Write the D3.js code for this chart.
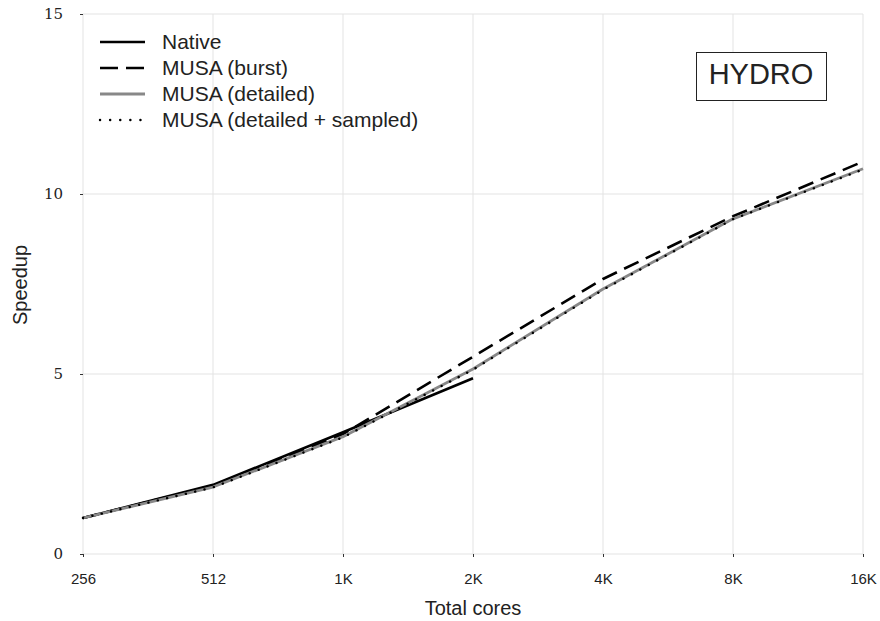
<!DOCTYPE html>
<html>
<head>
<meta charset="utf-8">
<script src="https://cdn.jsdelivr.net/npm/d3@7/dist/d3.min.js"></script>
<style>
  html, body { margin: 0; padding: 0; background: #fff; }
  svg { display: block; }
</style>
</head>
<body>
<svg id="chart" width="880" height="621"></svg>
<script>
// Core counts on a log2 axis and the speedup of each configuration
const cores = [256, 512, 1024, 2048, 4096, 8192, 16384];
const coreLabels = ["256", "512", "1K", "2K", "4K", "8K", "16K"];
const yTicks = [0, 5, 10, 15];

const native   = [1.0, 1.92, 3.38, 4.88];
const burst    = [1.0, 1.90, 3.33, 5.48, 7.64, 9.38, 10.90];
const detailed = [1.0, 1.86, 3.26, 5.14, 7.36, 9.31, 10.70];
const sampled  = [1.0, 1.85, 3.24, 5.12, 7.34, 9.30, 10.68];

const seriesNames = ["Native", "MUSA (burst)", "MUSA (detailed)", "MUSA (detailed + sampled)"];

const sans = "'Liberation Sans', Arial, sans-serif";
const serif = "'DejaVu Serif', serif";

const margin = { left: 83, right: 17, top: 14, bottom: 67 };
const W = 880, H = 621;
const svg = d3.select("#chart");

const x = d3.scaleLog().base(2).domain([256, 16384]).range([margin.left, W - margin.right]);
const y = d3.scaleLinear().domain([0, 15]).range([H - margin.bottom, margin.top]);

// Grid
const grid = svg.append("g");
grid.selectAll("line.v").data(cores).join("line")
  .attr("x1", d => x(d)).attr("x2", d => x(d))
  .attr("y1", y(0)).attr("y2", y(15))
  .attr("stroke", "#e3e3e3").attr("stroke-width", 1);
grid.selectAll("line.h").data(yTicks).join("line")
  .attr("x1", x(256)).attr("x2", x(16384))
  .attr("y1", d => y(d)).attr("y2", d => y(d))
  .attr("stroke", "#e3e3e3").attr("stroke-width", 1);

// Axes
const xAxis = d3.axisBottom(x).tickValues(cores)
  .tickFormat((d, i) => coreLabels[i]).tickSize(3).tickPadding(16);
const gx = svg.append("g").attr("transform", `translate(0,${y(0)})`).call(xAxis);
gx.select(".domain").remove();
gx.selectAll(".tick line").attr("stroke", "#333");
gx.selectAll(".tick text").attr("font-family", sans).attr("font-size", 15).attr("fill", "#222");

const yAxis = d3.axisLeft(y).tickValues(yTicks).tickSize(3).tickPadding(17);
const gy = svg.append("g").attr("transform", `translate(${x(256)},0)`).call(yAxis);
gy.select(".domain").remove();
gy.selectAll(".tick line").attr("stroke", "#333");
gy.selectAll(".tick text").attr("font-family", serif).attr("font-size", 15).attr("fill", "#222");

// Axis titles
svg.append("text").attr("x", x(2048)).attr("y", 615)
  .attr("text-anchor", "middle").attr("font-family", sans).attr("font-size", 20).attr("fill", "#222")
  .text("Total cores");
svg.append("text").attr("transform", `translate(27,${y(7.5) + 1}) rotate(-90)`)
  .attr("text-anchor", "middle").attr("font-family", sans).attr("font-size", 20).attr("fill", "#222")
  .text("Speedup");

// Series
const line = d3.line().x((d, i) => x(cores[i])).y(d => y(d));
const styles = [
  { data: native,   stroke: "#000", width: 2.6, dash: null, cap: "butt" },
  { data: burst,    stroke: "#000", width: 2.6, dash: "16,8", cap: "butt" },
  { data: detailed, stroke: "#888", width: 2.8, dash: null, cap: "butt" },
  { data: sampled,  stroke: "#000", width: 2.4, dash: "0.1,9.5", cap: "round" }
];
const plot = svg.append("g");
styles.forEach(s => {
  plot.append("path").datum(s.data).attr("d", line)
    .attr("fill", "none").attr("stroke", s.stroke).attr("stroke-width", s.width)
    .attr("stroke-dasharray", s.dash).attr("stroke-linecap", s.cap).attr("stroke-linejoin", "round");
});

// Legend
const legend = svg.append("g");
styles.forEach((s, i) => {
  const ly = 42 + i * 26;
  legend.append("line").attr("x1", 100).attr("x2", 145).attr("y1", ly).attr("y2", ly)
    .attr("stroke", s.stroke).attr("stroke-width", s.width)
    .attr("stroke-dasharray", i === 1 ? "18,8" : (i === 3 ? "0.1,10" : null))
    .attr("stroke-linecap", s.cap);
  legend.append("text").attr("x", 162).attr("y", ly + 6.5)
    .attr("font-family", sans).attr("font-size", 21).attr("fill", "#222")
    .text(seriesNames[i]);
});

// Benchmark name box
svg.append("rect").attr("x", 696.5).attr("y", 52.5).attr("width", 130).attr("height", 48)
  .attr("fill", "#fff").attr("stroke", "#222").attr("stroke-width", 1);
svg.append("text").attr("x", 761).attr("y", 83.5)
  .attr("text-anchor", "middle").attr("font-family", sans).attr("font-size", 29).attr("fill", "#222")
  .text("HYDRO");
</script>
</body>
</html>
